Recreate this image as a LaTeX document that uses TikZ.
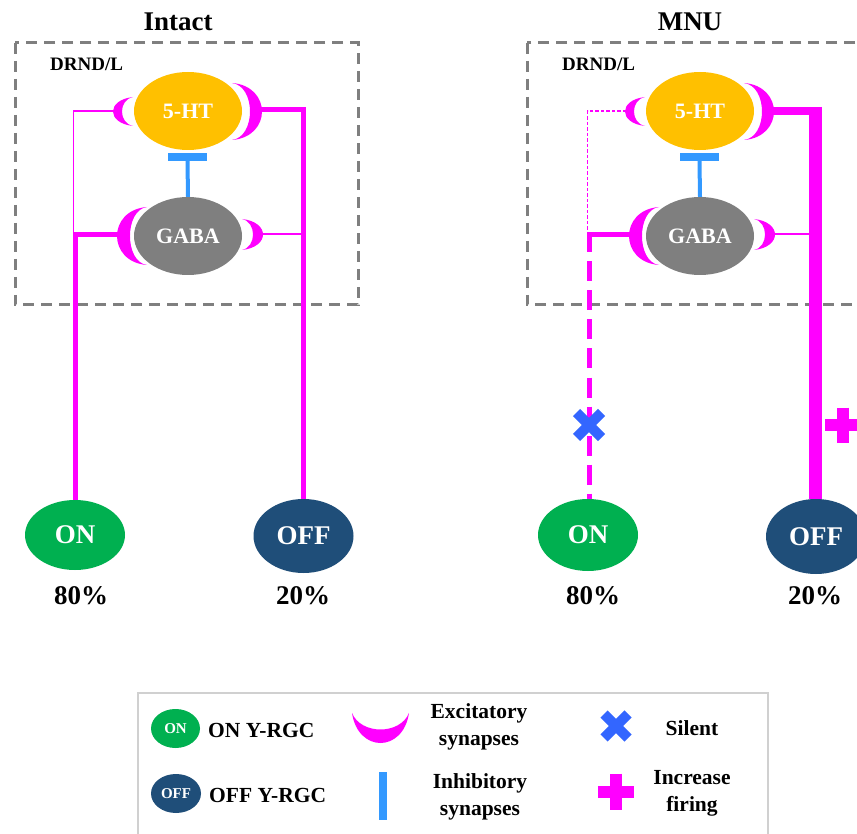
\documentclass[tikz,border=0pt]{standalone}
\usepackage{fontspec}
\setmainfont{Liberation Serif}
\usetikzlibrary{shapes.geometric}
\definecolor{mag}{HTML}{FF00FF}
\definecolor{htc}{HTML}{FFC000}
\definecolor{gabac}{HTML}{7F7F7F}
\definecolor{onc}{HTML}{00B050}
\definecolor{offc}{HTML}{1F4E79}
\definecolor{inhc}{HTML}{3399FF}
\definecolor{silc}{HTML}{3366FF}
\definecolor{boxc}{HTML}{7F7F7F}
\definecolor{legc}{HTML}{D0D0D0}
% crescent: tip x, mid y, half height, outer ctrl offset, inner ctrl offset
\newcommand\exsyn[5]{\fill[mag] (#1,{#2-#3}) .. controls ({#1+(#4)},{#2-#3+3}) and ({#1+(#4)},{#2+#3-3}) .. (#1,{#2+#3}) .. controls ({#1+(#5)},{#2+#3-3}) and ({#1+(#5)},{#2-#3+3}) .. cycle;}
\begin{document}
\begin{tikzpicture}[x=1pt,y=-1pt,
  cell/.style={ellipse, inner sep=0pt, text=white, minimum width=108pt, minimum height=78pt, font=\bfseries\fontsize{22}{24}\selectfont},
  rgc/.style={ellipse, inner sep=0pt, text=white, minimum width=100pt, font=\bfseries\fontsize{27}{30}\selectfont},
  lgc/.style={ellipse, inner sep=0pt, text=white, minimum width=49pt, minimum height=39pt, font=\bfseries\fontsize{15}{17}\selectfont},
  big/.style={font=\bfseries\fontsize{27}{30}\selectfont, inner sep=0pt},
  regl/.style={font=\bfseries\fontsize{19}{21}\selectfont, inner sep=0pt, anchor=west},
  legtxt/.style={font=\bfseries\fontsize{21.5}{27}\selectfont, inner sep=0pt, align=center},
  dbox/.style={boxc, line width=3pt, dash pattern=on 11pt off 7pt},
  thinexc/.style={mag, line width=1.8pt},
  thickexc/.style={mag, line width=5pt, line join=miter},
  inhbar/.style={fill=inhc, inner sep=0pt, minimum width=39pt, minimum height=8pt},
  inhstem/.style={inhc, line width=4pt}
]
\clip (0,0) rectangle (857,834);
\fill[white] (0,0) rectangle (857,834);

% ---------------- Intact ----------------
\draw[dbox] (15,43) rectangle (358,305);
\node[big] (t1) at (178,22) {Intact};
\node[regl] (d1) at (50,64) {DRND/L};
\node[cell, fill=htc] (ht1) at (188,111) {5-HT};
\node[cell, fill=gabac] (gb1) at (188,236) {GABA};
\node[inhbar] (bar1) at (187.5,157) {};
\draw[inhstem] (gb1.north) -- (bar1.south);
\exsyn{133}{111.5}{14.5}{-26.7}{-14.7}
\exsyn{232}{111.5}{28.5}{40}{24}
\exsyn{147}{236}{29}{-40}{-22.7}
\exsyn{242}{234.5}{15.5}{28}{14.7}
\coordinate (s1a) at (114,111);
\coordinate (s1b) at (261,110);
\coordinate (s1c) at (118,235);
\coordinate (s1d) at (262,234);
\coordinate (k1a) at (73.5,111);
\coordinate (j1a) at (73.5,235);
\coordinate (k1c) at (75,235);
\coordinate (k1b) at (303.5,110);
\coordinate (j1d) at (303.5,234);
\node[rgc, fill=onc, minimum height=70pt] (on1) at (75,535) {ON};
\node[rgc, fill=offc, minimum height=74pt] (off1) at (303.5,536) {OFF};
\draw[thinexc] (s1a) -- (k1a) -- (j1a);
\draw[thickexc] (s1c) -- (k1c) -- (on1.north);
\draw[thickexc] (s1b) -- (k1b) -- (off1.north);
\draw[thinexc] (s1d) -- (j1d);
\node[big] (p1) at (81,596) {80\%};
\node[big] (q1) at (303,596) {20\%};

% ---------------- MNU ----------------
\begin{scope}[xshift=512pt]
\draw[dbox] (15,43) rectangle (358,305);
\node[big] (t2) at (178,22) {MNU};
\node[regl] (d2) at (50,64) {DRND/L};
\node[cell, fill=htc] (ht2) at (188,111) {5-HT};
\node[cell, fill=gabac] (gb2) at (188,236) {GABA};
\node[inhbar] (bar2) at (187.5,157) {};
\draw[inhstem] (gb2.north) -- (bar2.south);
\exsyn{133}{111.5}{14.5}{-26.7}{-14.7}
\exsyn{232}{111.5}{28.5}{40}{24}
\exsyn{147}{236}{29}{-40}{-22.7}
\exsyn{242}{234.5}{15.5}{28}{14.7}
\coordinate (s2a) at (114,111);
\coordinate (s2b) at (261,111);
\coordinate (s2c) at (118,235);
\coordinate (s2d) at (262,234);
\coordinate (k2a) at (75.5,111);
\coordinate (j2a) at (75.5,233);
\coordinate (k2c) at (77,235);
\coordinate (k2b) at (309.5,111);
\coordinate (v2b) at (303,107);
\coordinate (j2d) at (303,234);
\node[rgc, fill=onc, minimum height=72pt] (on2) at (76,535) {ON};
\node[rgc, fill=offc, minimum height=75pt] (off2) at (304,536.5) {OFF};
\draw[thinexc, dash pattern=on 3.5pt off 2pt] (s2a) -- (k2a) -- (j2a);
\draw[thickexc] (s2c) -- ([xshift=-2.5pt]k2c);
\draw[thickexc, dash pattern=on 20pt off 9pt] ([yshift=2.5pt]k2c) -- (on2.north -| k2c);
\draw[mag, line width=8pt] (s2b) -- (k2b);
\draw[mag, line width=13pt] (v2b) -- (off2.north -| v2b);
\draw[thinexc] (s2d) -- (j2d);
\coordinate (x2) at (77,425);
\draw[silc, line width=10pt] ([shift={(-12.5,-12.5)}]x2) -- ([shift={(12.5,12.5)}]x2);
\draw[silc, line width=10pt] ([shift={(-12.5,12.5)}]x2) -- ([shift={(12.5,-12.5)}]x2);
\coordinate (pl2) at (330.5,425);
\draw[mag, line width=12pt] ([shift={(-17.5,0)}]pl2) -- ([shift={(17.5,0)}]pl2);
\draw[mag, line width=12pt] ([shift={(0,-17.5)}]pl2) -- ([shift={(0,17.5)}]pl2);
\node[big] (p2) at (81,596) {80\%};
\node[big] (q2) at (303,596) {20\%};
\end{scope}

% ---------------- Legend ----------------
\draw[legc, line width=1.5pt] (138,693) rectangle (768,850);
\node[lgc, fill=onc] (lon) at (175.5,728.5) {ON};
\node[lgc, fill=offc, minimum width=50pt] (loff) at (176,793.5) {OFF};
\node[legtxt, anchor=west] (lont) at (208,730) {ON Y-RGC};
\node[legtxt, anchor=west] (lofft) at (209,795) {OFF Y-RGC};
\fill[mag] (352,713) .. controls (358,753) and (403,753) .. (409,713) .. controls (400,735) and (361,735) .. cycle;
\node[fill=inhc, inner sep=0pt, minimum width=8pt, minimum height=48pt] (linh) at (383,796) {};
\node[legtxt] (lexct) at (479,727) {Excitatory\\synapses};
\node[legtxt] (linht) at (480,797) {Inhibitory\\synapses};
\coordinate (lx) at (616,726);
\draw[silc, line width=10pt] ([shift={(-12,-12)}]lx) -- ([shift={(12,12)}]lx);
\draw[silc, line width=10pt] ([shift={(-12,12)}]lx) -- ([shift={(12,-12)}]lx);
\node[legtxt] (lsil) at (692,728) {Silent};
\coordinate (lp) at (616,791.5);
\draw[mag, line width=12pt] ([shift={(-18,0)}]lp) -- ([shift={(18,0)}]lp);
\draw[mag, line width=12pt] ([shift={(0,-18)}]lp) -- ([shift={(0,18)}]lp);
\node[legtxt] (linc) at (692,793) {Increase\\firing};
\end{tikzpicture}
\end{document}
